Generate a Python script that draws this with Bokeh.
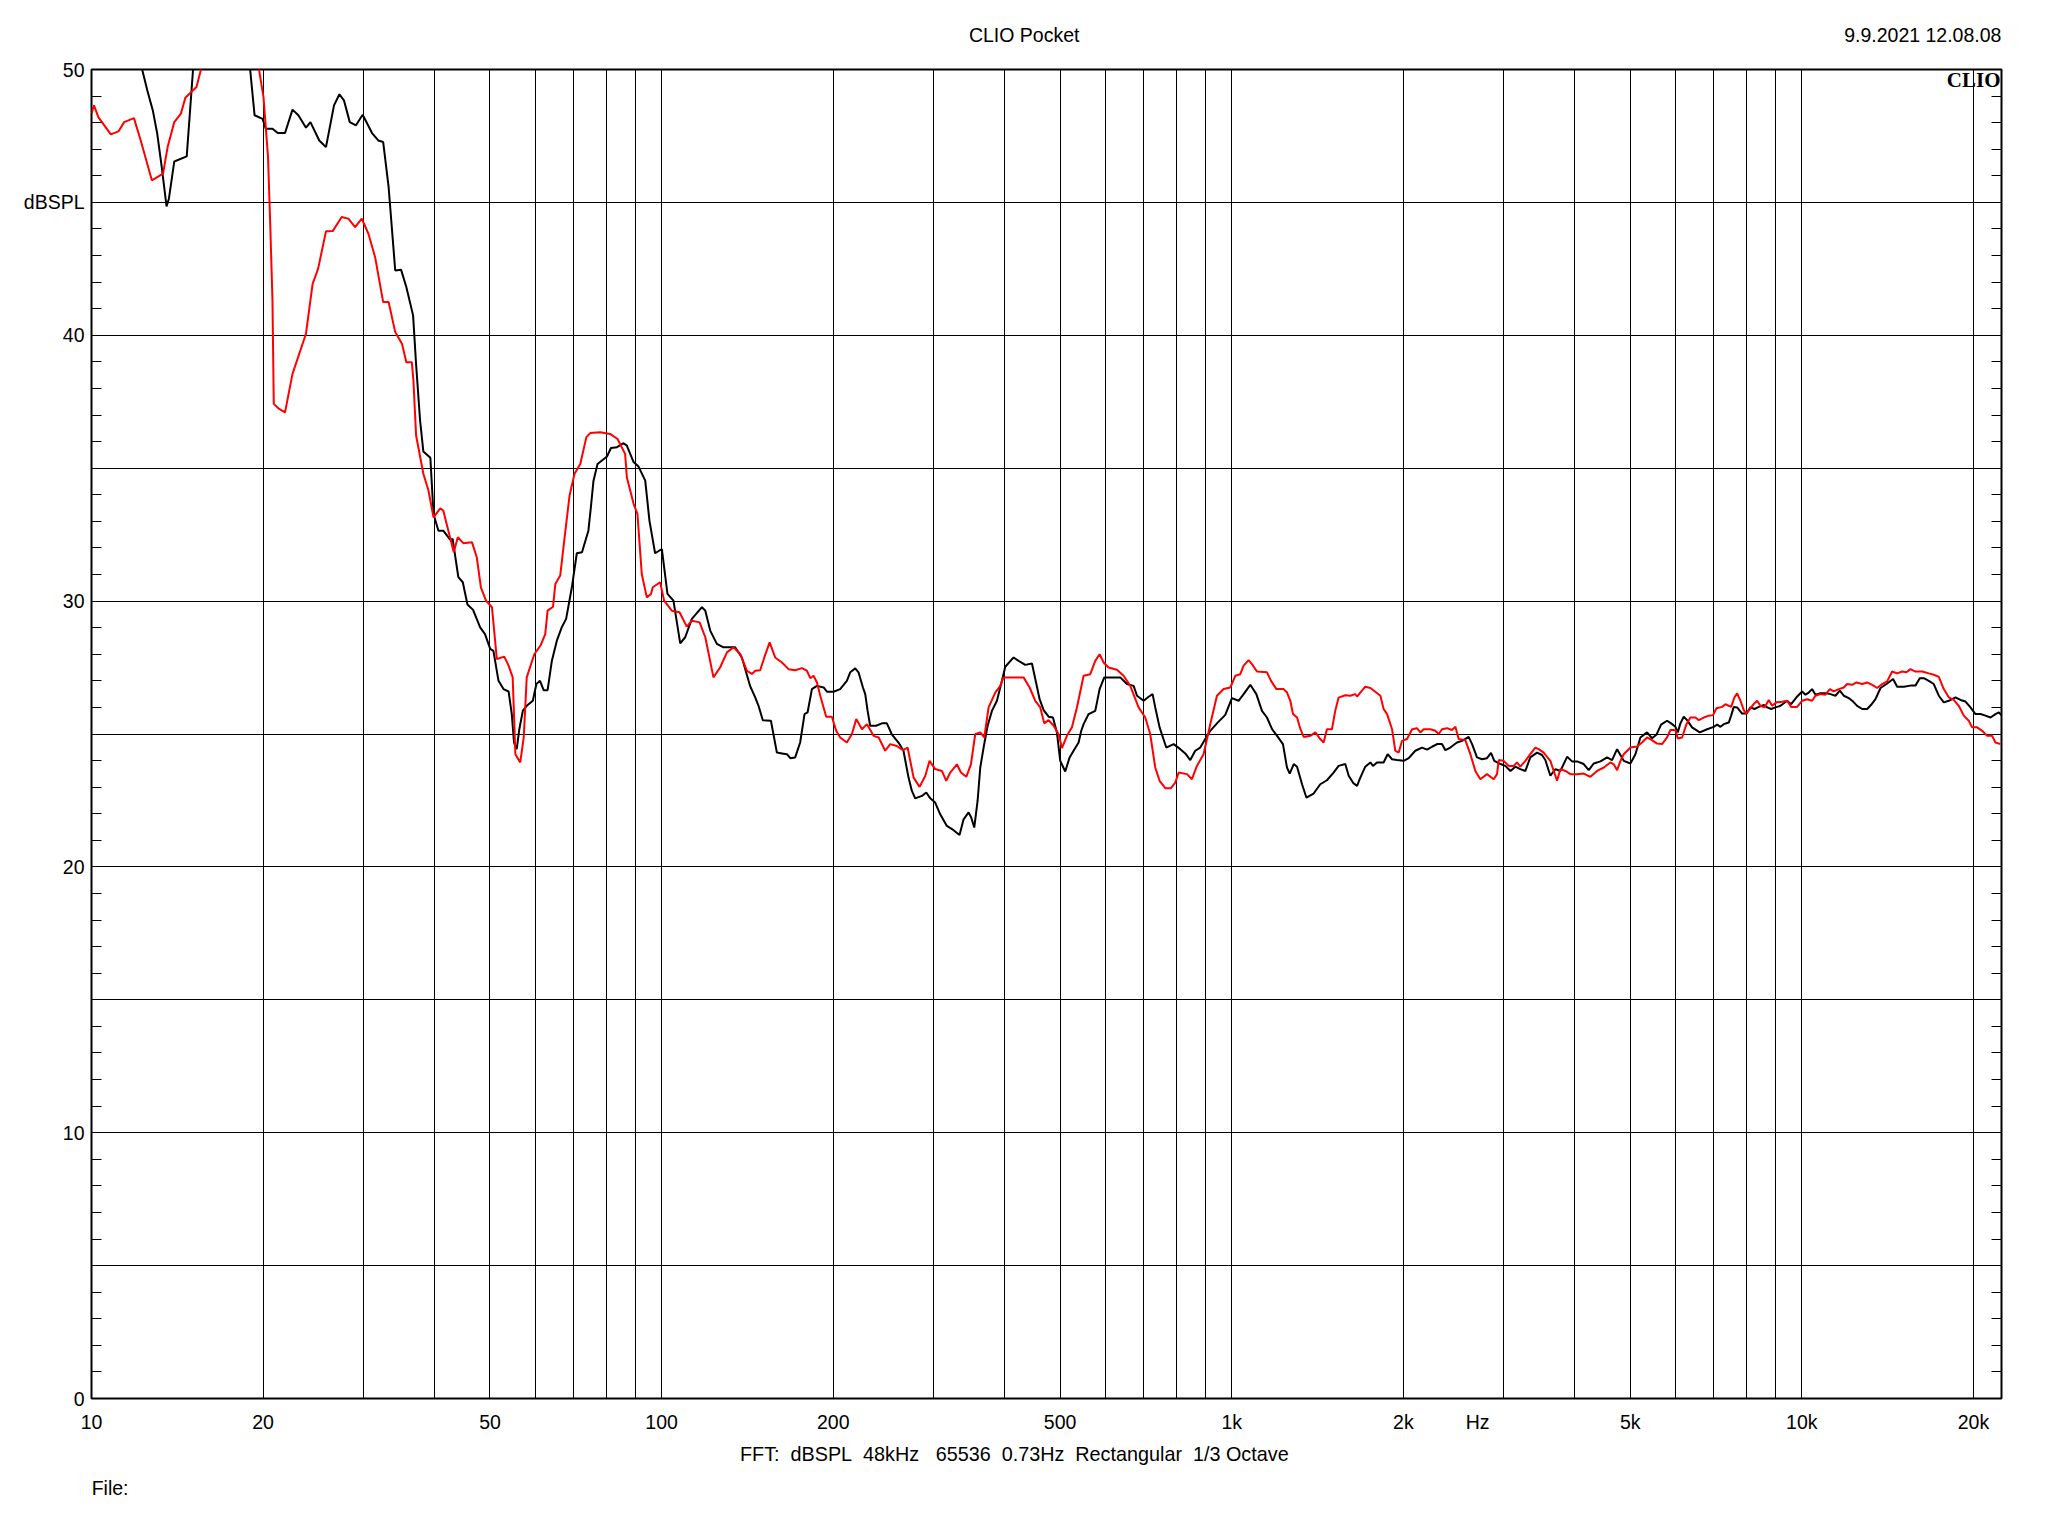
from bokeh.plotting import figure
from bokeh.models import Range1d, FixedTicker, SingleIntervalTicker, LinearAxis, LogAxis, Label
from bokeh.embed import file_html
from bokeh.resources import INLINE

# ---------------- data ----------------
X_LABEL_TICKS = [10, 20, 50, 100, 200, 500, 1000, 2000, 2700, 5000, 10000, 20000]
X_LABEL_TEXT = ["10", "20", "50", "100", "200", "500", "1k", "2k", "Hz", "5k", "10k", "20k"]
GRID_FREQS = [10, 20, 30, 40, 50, 60, 70, 80, 90,
              100, 200, 300, 400, 500, 600, 700, 800, 900,
              1000, 2000, 3000, 4000, 5000, 6000, 7000, 8000, 9000,
              10000, 20000]
Y_LABEL_TICKS = [0, 10, 20, 30, 40, 45, 50]
Y_LABEL_TEXT = ["0", "10", "20", "30", "40", "dBSPL", "50"]

# black trace (Hz, dBSPL)
BLACK_LOW = [(10, 54.0), (12.27, 50.0), (12.53, 49.21), (12.81, 48.46), (13.04, 47.59), (13.28, 46.33),
             (13.54, 44.85), (13.67, 45.14), (13.97, 46.54), (14.69, 46.73), (15.07, 50.0), (17.0, 53.0),
             (18.98, 50.0), (19.32, 48.28), (19.96, 48.14), (20.21, 47.77), (20.77, 47.77), (21.22, 47.61),
             (21.85, 47.61), (22.52, 48.49), (23.06, 48.28), (23.78, 47.81), (24.21, 48.02), (25.09, 47.33),
             (25.78, 47.08), (26.63, 48.65), (27.22, 49.07), (27.72, 48.84), (28.38, 48.02), (29.10, 47.90),
             (29.90, 48.30), (31.05, 47.61), (31.84, 47.33), (32.48, 47.27), (33.20, 45.58), (34.10, 42.44),
             (34.91, 42.47), (35.67, 41.81), (36.65, 40.75), (37.1, 38.9), (37.7, 36.8), (38.2, 35.63),
             (39.3, 35.39), (39.8, 33.28), (40.6, 32.65), (41.4, 32.65), (42.6, 32.30), (43.0, 32.34),
             (44.0, 30.90), (44.8, 30.71), (45.65, 29.87), (46.7, 29.67), (48.05, 29.01), (49.0, 28.76),
             (50.05, 28.20), (50.7, 28.13), (51.75, 27.0), (52.8, 26.69), (53.9, 26.60), (54.6, 25.75),
             (55.1, 24.68), (55.7, 24.43), (56.3, 25.19), (57.1, 25.88), (58.0, 26.06), (59.45, 26.25),
             (60.3, 26.88), (61.2, 27.0), (62.1, 26.65), (63.1, 26.65), (64.2, 27.76), (65.5, 28.51),
             (66.8, 29.01), (68.0, 29.33), (69.6, 30.52), (71.0, 31.80), (72.5, 31.84), (74.4, 32.65),
             (75.15, 33.53), (75.95, 34.53), (77.2, 35.16), (80.2, 35.44), (81.5, 35.76), (83.5, 35.79),
             (85.75, 35.94), (86.9, 35.85), (89.3, 35.23), (91.1, 35.06), (93.6, 34.53), (95.2, 33.03),
             (97.4, 31.80), (100.1, 31.96), (102.4, 30.27), (104.9, 30.02), (107.8, 28.41), (110.0, 28.64),
             (113.0, 29.33), (117.7, 29.77), (119.3, 29.64), (121.7, 28.89), (125.0, 28.39), (128.4, 28.26),
             (134.6, 28.26), (138.3, 27.88), (143.0, 26.8)]
BLACK_MID = [(146.0, 26.37), (147.9, 26.06), (150.5, 25.52), (155.5, 25.50), (159.3, 24.30), (162.6, 24.27),
             (165.9, 24.24), (168.1, 24.09), (171.5, 24.12), (175.0, 24.68), (178.1, 25.75), (180.3, 25.81),
             (183.5, 26.69), (187.3, 26.81), (192.4, 26.75), (195.0, 26.59), (200.3, 26.59), (205.7, 26.69),
             (211.3, 27.0), (214.2, 27.32), (218.6, 27.47), (221.5, 27.32), (225.5, 26.75), (227.6, 26.50),
             (229.8, 25.87), (232.2, 25.31), (237.9, 25.31), (243.4, 25.40), (248.4, 25.40), (253.4, 24.99),
             (260.3, 24.68), (265.6, 24.37), (271.1, 23.36), (274.8, 22.86), (278.5, 22.58), (286.1, 22.67),
             (291.2, 22.80), (296.0, 22.58), (301.9, 22.42), (308.1, 21.98), (316.5, 21.54), (325.2, 21.38),
             (333.1, 21.20), (338.6, 21.79), (345.5, 22.05), (349.2, 21.86), (353.5, 21.48), (358.3, 22.48),
             (362.2, 23.74), (367.1, 24.49), (373.1, 25.31), (379.7, 25.87), (387.4, 26.25), (395.3, 27.0),
             (400.7, 27.53), (414.4, 27.88), (422.9, 27.75), (434.4, 27.60), (446.3, 27.65), (454.3, 26.88),
             (460.3, 26.31), (467.8, 25.90), (477.3, 25.65), (485.8, 25.62), (493.6, 25.06), (500.3, 23.99),
             (510.5, 23.59), (519.6, 24.12), (528.0, 24.37), (538.8, 24.68), (544.6, 25.12), (549.8, 25.37),
             (561.0, 25.75), (576.3, 25.87), (586.5, 26.69), (597.7, 27.13), (612.4, 27.13), (637.6, 27.13),
             (655.0, 26.88), (672.9, 26.81), (682.1, 26.44), (700.7, 26.25), (714.9, 26.40), (726.5, 26.50),
             (734.3, 26.0), (747.3, 25.25), (767.7, 24.49), (790.9, 24.62), (812.4, 24.43), (829.0, 24.27),
             (845.9, 24.02), (863.1, 24.37), (880.7, 24.49), (898.6, 24.81), (917.0, 25.12), (942.1, 25.40),
             (974.3, 25.72), (1001, 26.35), (1028, 26.25), (1049.3, 26.50), (1078, 26.85)]
BLACK_HIGH = [(1104.6, 26.50), (1130, 25.87), (1153, 25.62), (1177, 25.18), (1201, 24.93), (1230, 24.62),
              (1250, 23.74), (1264, 23.51), (1284.6, 23.87), (1302, 23.77), (1328.5, 23.11), (1352, 22.61),
              (1392, 22.76), (1430, 23.11), (1469, 23.26), (1509, 23.55), (1540, 23.80), (1582, 23.87),
              (1604, 23.43), (1636, 23.14), (1659, 23.05), (1681, 23.36), (1715, 23.77), (1751, 23.93),
              (1769, 23.80), (1798, 23.93), (1847, 23.93), (1877, 24.24), (1911, 24.05), (1950, 24.02),
              (2003, 23.99), (2044, 24.09), (2099, 24.37), (2157, 24.49), (2201, 24.41), (2246, 24.52),
              (2292, 24.62), (2338, 24.62), (2370, 24.39), (2418, 24.49), (2484, 24.68), (2535, 24.74),
              (2604, 24.89), (2640, 24.62), (2693, 24.12), (2748, 24.05), (2804, 24.09), (2850, 24.29),
              (2888, 23.99), (2961, 23.87), (3020, 23.80), (3082, 23.61), (3145, 23.77), (3208, 23.68),
              (3274, 23.61), (3340, 24.12), (3432, 24.30), (3502, 24.21), (3549, 24.02), (3622, 23.43),
              (3696, 23.68), (3772, 23.61), (3875, 24.14), (3954, 23.97), (4035, 23.97), (4144, 23.87),
              (4229, 23.64), (4315, 23.89), (4434, 23.97), (4555, 24.12), (4647, 24.02), (4742, 24.43),
              (4871, 23.99), (5005, 23.89), (5106, 24.24), (5210, 24.87), (5352, 25.06), (5461, 24.84),
              (5558, 24.97), (5664, 25.35), (5803, 25.50), (5898, 25.40), (6002, 25.27), (6059, 25.06),
              (6124, 25.40), (6207, 25.65), (6291, 25.52), (6419, 25.25), (6622, 25.06), (6822, 25.18),
              (7008, 25.27), (7104, 25.35), (7199, 25.27), (7297, 25.37), (7445, 25.43), (7516, 25.69),
              (7597, 26.02), (7701, 26.0), (7857, 25.77), (7996, 25.77), (8127, 26.0), (8260, 25.94),
              (8406, 26.02), (8578, 26.09), (8695, 26.0), (8836, 25.94), (8992, 26.0), (9176, 26.06),
              (9424, 26.25), (9577, 26.12), (9786, 26.38), (10012, 26.60), (10146, 26.48), (10285, 26.56),
              (10424, 26.69), (10566, 26.48), (10782, 26.53), (11045, 26.53), (11225, 26.50), (11455, 26.44),
              (11658, 26.63), (11847, 26.44), (12090, 26.35), (12303, 26.22), (12503, 26.06), (12760, 25.94),
              (13020, 25.94), (13231, 26.10), (13465, 26.31), (13741, 26.73), (14114, 26.90), (14459, 27.07),
              (14697, 26.78), (15100, 26.78), (15507, 26.82), (15824, 26.82), (16102, 27.10), (16368, 27.10),
              (16700, 27.0), (17040, 26.88), (17389, 26.44), (17742, 26.19), (18104, 26.25), (18599, 26.38),
              (18980, 26.28), (19369, 26.22), (19763, 26.0), (20165, 25.75), (20577, 25.75), (21000, 25.69),
              (21425, 25.62), (21862, 25.75), (22157, 25.81), (22460, 25.69)]

# red trace (Hz, dBSPL)
RED_LOW = [(10.0, 48.34), (10.1, 48.65), (10.28, 48.21), (10.81, 47.56), (11.15, 47.67), (11.41, 48.02),
           (11.87, 48.17), (12.2, 47.33), (12.76, 45.83), (13.35, 46.08), (13.6, 47.08), (13.97, 48.02),
           (14.35, 48.34), (14.61, 48.94), (15.28, 49.34), (15.56, 50.0), (17.5, 53.0), (19.67, 50.0),
           (20.03, 48.96), (20.4, 46.71), (20.59, 44.07), (20.77, 41.31), (20.88, 37.42), (21.34, 37.23),
           (21.85, 37.10), (22.52, 38.55), (23.78, 40.06), (24.43, 41.94), (24.97, 42.50), (25.78, 43.91),
           (26.49, 43.92), (27.47, 44.45), (28.22, 44.39), (29.0, 44.07), (29.79, 44.39), (30.6, 43.82),
           (31.44, 42.94), (32.48, 41.25), (33.20, 41.25), (34.10, 40.12), (35.04, 39.68), (35.67, 38.99),
           (36.46, 38.99), (36.7, 38.3), (37.1, 36.23), (38.2, 34.79), (39.0, 34.16), (39.8, 33.15),
           (40.9, 33.49), (41.4, 33.41), (43.2, 31.84), (43.9, 32.40), (44.9, 32.18), (46.5, 32.21),
           (47.4, 31.65), (48.2, 30.52), (49.2, 30.02), (50.4, 29.77), (51.4, 27.82), (52.97, 27.91),
           (53.9, 27.57), (54.8, 27.13), (55.4, 24.24), (56.5, 23.93), (57.3, 24.87), (58.0, 27.13),
           (59.8, 28.0), (61.4, 28.35), (62.5, 28.76), (63.1, 29.64), (64.5, 29.79), (65.1, 30.64),
           (66.4, 30.96), (67.7, 32.53), (68.95, 33.97), (70.35, 34.79), (72.0, 35.16), (73.8, 36.17),
           (74.95, 36.32), (78.05, 36.35), (81.2, 36.29), (83.7, 36.10), (86.3, 35.54), (86.9, 34.66),
           (89.3, 33.66), (90.7, 33.28), (92.3, 31.02), (94.2, 30.14), (95.8, 30.27), (96.5, 30.52),
           (99.4, 30.71), (101.0, 30.02), (104.2, 29.64), (107.5, 29.58), (110.7, 29.04), (113.0, 29.26),
           (116.6, 29.20), (119.3, 28.64), (123.3, 27.13), (126.7, 27.51), (130.2, 28.07), (133.7, 28.26),
           (137.4, 28.01), (141.1, 27.38), (144.0, 27.26)]
RED_MID = [(146.0, 27.38), (148.9, 27.40), (151.4, 27.88), (154.7, 28.45), (158.2, 27.88), (162.6, 27.69),
           (167.0, 27.44), (171.5, 27.40), (176.2, 27.48), (179.8, 27.38), (182.3, 27.10), (184.7, 27.19),
           (187.3, 26.94), (189.8, 26.44), (194.4, 25.65), (198.9, 25.65), (202.4, 25.12), (205.7, 24.87),
           (211.3, 24.68), (215.7, 25.0), (219.5, 25.56), (224.6, 25.18), (229.2, 25.37), (235.4, 24.93),
           (240.3, 24.87), (246.7, 24.37), (251.8, 24.62), (258.6, 24.55), (265.0, 24.39), (270.1, 24.49),
           (276.7, 23.36), (283.5, 23.01), (290.1, 23.43), (295.1, 23.99), (301.9, 23.68), (310.2, 23.61),
           (315.7, 23.24), (320.8, 23.55), (329.6, 23.86), (335.0, 23.55), (342.3, 23.39), (348.8, 23.86),
           (354.9, 24.99), (362.2, 25.06), (368.1, 24.87), (374.6, 26.0), (384.8, 26.56), (392.7, 26.81),
           (397.9, 27.13), (414.4, 27.13), (431.4, 27.13), (442.1, 26.75), (452.3, 26.25), (461.5, 26.0),
           (469.0, 25.40), (477.3, 25.52), (487.1, 25.31), (497.0, 24.99), (503.8, 24.47), (514.0, 24.93),
           (524.5, 25.25), (535.2, 26.0), (549.8, 27.19), (564.8, 27.25), (576.3, 27.75), (586.5, 28.0),
           (596.1, 27.69), (608.1, 27.50), (629.0, 27.42), (646.2, 27.19), (663.8, 26.81), (686.5, 26.0),
           (705.3, 25.62), (719.6, 24.99), (734.3, 23.74), (747.3, 23.24), (764.7, 22.96), (782.4, 22.96),
           (796.2, 23.17), (807.0, 23.55), (834.6, 23.49), (851.5, 23.30), (868.9, 23.80), (892.6, 24.24),
           (917.0, 25.37), (942.1, 26.44), (967.8, 26.69), (994.3, 26.75), (1014.6, 27.19), (1035.1, 27.25),
           (1049.3, 27.57), (1070.7, 27.78)]
RED_HIGH = [(1085.3, 27.63), (1107.4, 27.35), (1153.2, 27.32), (1172, 27.0), (1197.7, 26.69), (1233.5, 26.69),
            (1250.3, 26.56), (1267, 26.25), (1281, 25.75), (1302, 25.62), (1320, 25.18), (1337.6, 24.89),
            (1374, 24.93), (1402, 25.06), (1430, 24.81), (1449.5, 24.68), (1469, 25.18), (1499, 25.18),
            (1519, 25.87), (1540, 26.37), (1582, 26.46), (1614, 26.44), (1647, 26.50), (1659, 26.41),
            (1681, 26.56), (1715, 26.78), (1751, 26.73), (1786, 26.59), (1823, 26.44), (1847, 25.94),
            (1873, 25.75), (1911, 25.18), (1936, 24.37), (1963, 24.30), (1989, 24.74), (2030, 24.81),
            (2072, 25.18), (2113, 25.22), (2142, 25.06), (2171, 25.18), (2231, 25.18), (2276, 25.12),
            (2307, 25.0), (2338, 25.18), (2386, 25.22), (2434, 25.15), (2468, 25.27), (2501, 24.81),
            (2569, 24.77), (2622, 24.24), (2675, 23.61), (2730, 23.30), (2804, 23.49), (2881, 23.30),
            (2920, 23.49), (2940, 24.02), (3000, 23.99), (3061, 23.80), (3123, 23.80), (3165, 23.93),
            (3208, 23.77), (3274, 23.99), (3340, 24.24), (3408, 24.49), (3455, 24.43), (3525, 24.30),
            (3622, 23.99), (3671, 23.61), (3721, 23.24), (3772, 23.68), (3849, 23.61), (3927, 23.49),
            (4035, 23.49), (4144, 23.51), (4257, 23.39), (4374, 23.61), (4494, 23.74), (4616, 23.93),
            (4679, 23.86), (4742, 23.64), (4807, 23.99), (4871, 24.24), (5005, 24.49), (5140, 24.53),
            (5245, 24.68), (5352, 24.87), (5461, 24.77), (5573, 24.64), (5687, 24.62), (5803, 24.87),
            (5882, 25.15), (6002, 25.15), (6059, 24.83), (6166, 24.87), (6275, 25.37), (6377, 25.62),
            (6507, 25.62), (6596, 25.52), (6730, 25.62), (6867, 25.69), (6988, 25.71), (7083, 25.97),
            (7247, 26.02), (7346, 26.12), (7516, 26.02), (7618, 26.38), (7701, 26.53), (7805, 26.25),
            (7911, 25.90), (7996, 25.75), (8105, 25.94), (8237, 26.13), (8349, 26.25), (8462, 26.06),
            (8600, 26.0), (8750, 26.28), (8869, 26.06), (9026, 26.19), (9234, 26.21), (9424, 26.25),
            (9577, 26.02), (9813, 26.02), (10012, 26.25), (10217, 26.31), (10424, 26.25), (10566, 26.44),
            (10782, 26.50), (11001, 26.48), (11195, 26.69), (11378, 26.60), (11610, 26.69), (11847, 26.75),
            (12008, 26.88), (12253, 26.85), (12470, 26.94), (12760, 26.88), (13020, 26.94), (13286, 26.85),
            (13557, 26.73), (13832, 26.88), (14114, 26.98), (14402, 27.35), (14697, 27.28), (14994, 27.35),
            (15259, 27.32), (15507, 27.44), (15824, 27.35), (16255, 27.35), (16700, 27.28), (17040, 27.23),
            (17389, 27.15), (17742, 26.69), (18104, 26.38), (18474, 26.28), (18848, 26.06), (19233, 25.69),
            (19627, 25.50), (19893, 25.25), (20300, 25.25), (20716, 25.12), (21140, 24.93), (21568, 24.93),
            (21862, 24.68), (22310, 24.62)]

NB = "\u00a0"
TITLE = "CLIO Pocket"
DATE = "9.9.2021 12.08.08"
FOOTER = ("FFT:" + NB * 2 + "dBSPL" + NB * 2 + "48kHz" + NB * 3 + "65536" + NB * 2 + "0.73Hz"
          + NB * 2 + "Rectangular" + NB * 2 + "1/3 Octave")
FILE_TEXT = "File:"
BRAND = "CLIO"

# ---------------- figure ----------------
FONT = "Liberation Sans"
FS = "19.5px"
X_MIN, X_MAX = 10, 22400

black = BLACK_LOW + BLACK_MID + BLACK_HIGH
red = RED_LOW + RED_MID + RED_HIGH

p = figure(width=2032, height=1520, x_axis_type="log",
           x_range=Range1d(X_MIN, X_MAX), y_range=Range1d(0, 50),
           output_backend="svg", toolbar_location=None,
           min_border_left=91, min_border_right=31, min_border_top=69, min_border_bottom=122)
p.background_fill_color = "white"
p.border_fill_color = "white"
p.outline_line_color = "black"
p.outline_line_width = 2
p.outline_line_alpha = 1.0


def plain_axis(ax, standoff, size=FS):
    ax.axis_line_color = None
    ax.major_tick_in = 0
    ax.major_tick_out = 0
    ax.minor_tick_in = 0
    ax.minor_tick_out = 0
    ax.major_label_standoff = standoff
    ax.major_label_text_font = FONT
    ax.major_label_text_font_size = size
    ax.major_label_text_color = "black"


# x axis (frequency labels)
xa = p.xaxis[0]
xa.ticker = FixedTicker(ticks=X_LABEL_TICKS, minor_ticks=[])
xa.major_label_overrides = {t: s for t, s in zip(X_LABEL_TICKS, X_LABEL_TEXT)}
plain_axis(xa, 12)

# header texts carried by an extra top axis (title centred, date right-aligned to the frame)
HEADER_POS = [432.5, 16300]
top_ax = LogAxis(ticker=FixedTicker(ticks=HEADER_POS, minor_ticks=[]))
top_ax.major_label_overrides = {HEADER_POS[0]: TITLE, HEADER_POS[1]: DATE}
plain_axis(top_ax, 24)
p.add_layout(top_ax, "above")

# footer texts carried by two further bottom axes
FOOT_POS = [415.6]
foot_ax = LogAxis(ticker=FixedTicker(ticks=FOOT_POS, minor_ticks=[]))
foot_ax.major_label_overrides = {FOOT_POS[0]: FOOTER}
plain_axis(foot_ax, 7, "19.8px")
p.add_layout(foot_ax, "below")

FILE_POS = [10.78]
file_ax = LogAxis(ticker=FixedTicker(ticks=FILE_POS, minor_ticks=[]))
file_ax.major_label_overrides = {FILE_POS[0]: FILE_TEXT}
plain_axis(file_ax, 9)
p.add_layout(file_ax, "below")

# y axis (left)
Y_MINOR = [v for v in range(1, 50) if v % 5 != 0]
ya = p.yaxis[0]
ya.ticker = FixedTicker(ticks=Y_LABEL_TICKS, minor_ticks=Y_MINOR)
ya.major_label_overrides = {t: s for t, s in zip(Y_LABEL_TICKS, Y_LABEL_TEXT)}
plain_axis(ya, 7)
ya.minor_tick_in = 10
ya.minor_tick_line_color = "black"
ya.minor_tick_line_width = 1

# right axis: only inward minor ticks
ra = LinearAxis(ticker=FixedTicker(ticks=[], minor_ticks=Y_MINOR))
plain_axis(ra, 0)
ra.minor_tick_in = 10
ra.minor_tick_line_color = "black"
ra.minor_tick_line_width = 1
p.add_layout(ra, "right")

# grids
p.xgrid.ticker = FixedTicker(ticks=GRID_FREQS)
p.xgrid.grid_line_color = "black"
p.xgrid.grid_line_alpha = 1.0
p.xgrid.grid_line_width = 1
p.ygrid.ticker = SingleIntervalTicker(interval=5)
p.ygrid.grid_line_color = "black"
p.ygrid.grid_line_alpha = 1.0
p.ygrid.grid_line_width = 1

# traces
p.line([a for a, b in black], [b for a, b in black], line_color="black", line_width=2)
p.line([a for a, b in red], [b for a, b in red], line_color="#ff0000", line_width=2)

# brand mark inside the frame
p.add_layout(Label(x=X_MAX, y=50, text=BRAND, text_align="right", text_baseline="top",
                   x_offset=-1, y_offset=2, text_font="Liberation Serif", text_font_style="bold",
                   text_font_size="21px", text_color="black"))

open("out.html", "w").write(file_html(p, INLINE))
